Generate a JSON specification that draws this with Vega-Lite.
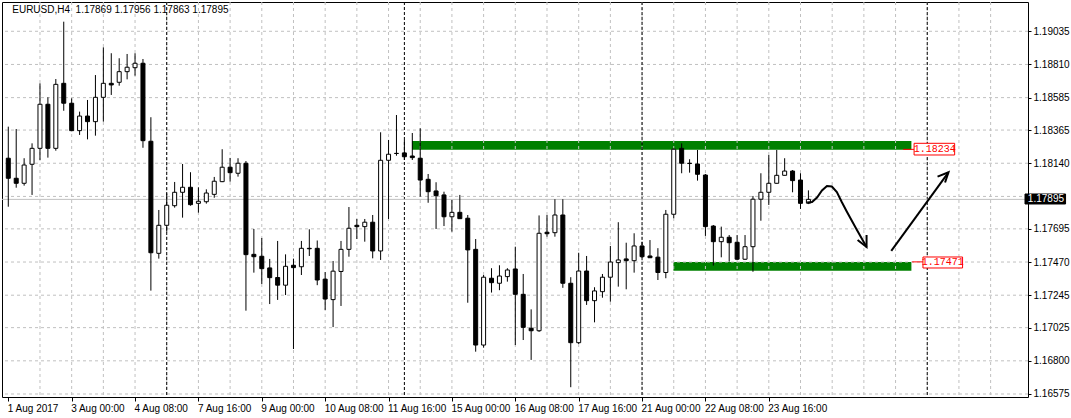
{
  "$schema": "https://vega.github.io/schema/vega-lite/v6.json",
  "width": 1026,
  "height": 395,
  "autosize": {"type": "none"},
  "padding": {"left": 2, "top": 2, "right": 43, "bottom": 21},
  "background": "white",
  "config": {
    "view": {"stroke": "black", "strokeWidth": 1, "fill": "white"},
    "font": "Liberation Sans",
    "axis": {"labelOverlap": false, "labelBound": false, "labelFlush": false, "title": null}
  },
  "datasets": {
    "candles": [
      {"i":0,"o":1.18174,"h":1.18388,"l":1.17845,"c":1.18038},
      {"i":1,"o":1.18038,"h":1.18372,"l":1.17974,"c":1.18004},
      {"i":2,"o":1.18004,"h":1.18174,"l":1.17988,"c":1.18128},
      {"i":3,"o":1.18133,"h":1.18275,"l":1.17925,"c":1.18241},
      {"i":4,"o":1.18241,"h":1.18682,"l":1.18162,"c":1.18540},
      {"i":5,"o":1.18540,"h":1.18587,"l":1.18178,"c":1.18241},
      {"i":6,"o":1.18241,"h":1.18711,"l":1.18225,"c":1.18675},
      {"i":7,"o":1.18682,"h":1.19100,"l":1.18496,"c":1.18547},
      {"i":8,"o":1.18547,"h":1.18580,"l":1.18357,"c":1.18361},
      {"i":9,"o":1.18361,"h":1.18490,"l":1.18332,"c":1.18460},
      {"i":10,"o":1.18460,"h":1.18569,"l":1.18302,"c":1.18422},
      {"i":11,"o":1.18422,"h":1.18738,"l":1.18327,"c":1.18587},
      {"i":12,"o":1.18587,"h":1.18926,"l":1.18422,"c":1.18682},
      {"i":13,"o":1.18682,"h":1.18886,"l":1.18603,"c":1.18671},
      {"i":14,"o":1.18689,"h":1.18852,"l":1.18666,"c":1.18761},
      {"i":15,"o":1.18761,"h":1.18881,"l":1.18709,"c":1.18791},
      {"i":16,"o":1.18788,"h":1.18886,"l":1.18734,"c":1.18818},
      {"i":17,"o":1.18818,"h":1.18847,"l":1.18245,"c":1.18293},
      {"i":18,"o":1.18289,"h":1.18452,"l":1.17276,"c":1.17533},
      {"i":19,"o":1.17529,"h":1.17823,"l":1.17493,"c":1.17719},
      {"i":20,"o":1.17719,"h":1.17936,"l":1.17676,"c":1.17855},
      {"i":21,"o":1.17852,"h":1.18013,"l":1.17839,"c":1.17943},
      {"i":22,"o":1.17943,"h":1.18135,"l":1.17771,"c":1.17977},
      {"i":23,"o":1.17977,"h":1.18079,"l":1.17852,"c":1.17859},
      {"i":24,"o":1.17868,"h":1.17977,"l":1.17805,"c":1.17882},
      {"i":25,"o":1.17879,"h":1.17963,"l":1.17866,"c":1.17938},
      {"i":26,"o":1.17929,"h":1.18047,"l":1.17906,"c":1.18018},
      {"i":27,"o":1.18015,"h":1.18235,"l":1.18012,"c":1.18113},
      {"i":28,"o":1.18113,"h":1.18176,"l":1.18015,"c":1.18076},
      {"i":29,"o":1.18072,"h":1.18174,"l":1.18049,"c":1.18140},
      {"i":30,"o":1.18140,"h":1.18155,"l":1.17140,"c":1.17520},
      {"i":31,"o":1.17522,"h":1.17694,"l":1.17398,"c":1.17506},
      {"i":32,"o":1.17509,"h":1.17633,"l":1.17321,"c":1.17425},
      {"i":33,"o":1.17430,"h":1.17491,"l":1.17185,"c":1.17364},
      {"i":34,"o":1.17365,"h":1.17613,"l":1.17213,"c":1.17313},
      {"i":35,"o":1.17313,"h":1.17522,"l":1.17246,"c":1.17441},
      {"i":36,"o":1.17448,"h":1.17493,"l":1.16880,"c":1.17432},
      {"i":37,"o":1.17438,"h":1.17613,"l":1.17382,"c":1.17563},
      {"i":38,"o":1.17563,"h":1.17692,"l":1.17511,"c":1.17560},
      {"i":39,"o":1.17563,"h":1.17616,"l":1.17313,"c":1.17348},
      {"i":40,"o":1.17354,"h":1.17402,"l":1.17145,"c":1.17219},
      {"i":41,"o":1.17215,"h":1.17477,"l":1.17029,"c":1.17408},
      {"i":42,"o":1.17406,"h":1.17613,"l":1.17172,"c":1.17556},
      {"i":43,"o":1.17556,"h":1.17843,"l":1.17506,"c":1.17699},
      {"i":44,"o":1.17719,"h":1.17762,"l":1.17626,"c":1.17710},
      {"i":45,"o":1.17710,"h":1.17762,"l":1.17608,"c":1.17740},
      {"i":46,"o":1.17740,"h":1.17789,"l":1.17495,"c":1.17545},
      {"i":47,"o":1.17545,"h":1.18350,"l":1.17484,"c":1.18160},
      {"i":48,"o":1.18160,"h":1.18298,"l":1.17762,"c":1.18201},
      {"i":49,"o":1.18207,"h":1.18467,"l":1.18191,"c":1.18206},
      {"i":50,"o":1.18210,"h":1.18298,"l":1.18162,"c":1.18184},
      {"i":51,"o":1.18189,"h":1.18345,"l":1.18162,"c":1.18178},
      {"i":52,"o":1.18174,"h":1.18377,"l":1.17913,"c":1.18026},
      {"i":53,"o":1.18031,"h":1.18067,"l":1.17872,"c":1.17947},
      {"i":54,"o":1.17952,"h":1.18011,"l":1.17694,"c":1.17920},
      {"i":55,"o":1.17925,"h":1.17947,"l":1.17714,"c":1.17777},
      {"i":56,"o":1.17777,"h":1.17891,"l":1.17676,"c":1.17807},
      {"i":57,"o":1.17807,"h":1.17925,"l":1.17762,"c":1.17764},
      {"i":58,"o":1.17767,"h":1.17789,"l":1.17194,"c":1.17552},
      {"i":59,"o":1.17556,"h":1.17626,"l":1.16862,"c":1.16907},
      {"i":60,"o":1.16907,"h":1.17382,"l":1.16889,"c":1.17367},
      {"i":61,"o":1.17360,"h":1.17428,"l":1.17263,"c":1.17330},
      {"i":62,"o":1.17326,"h":1.17448,"l":1.17279,"c":1.17375},
      {"i":63,"o":1.17371,"h":1.17428,"l":1.17337,"c":1.17416},
      {"i":64,"o":1.17423,"h":1.17574,"l":1.16907,"c":1.17251},
      {"i":65,"o":1.17251,"h":1.17389,"l":1.16941,"c":1.17027},
      {"i":66,"o":1.17021,"h":1.17149,"l":1.16806,"c":1.17004},
      {"i":67,"o":1.17004,"h":1.17786,"l":1.16996,"c":1.17665},
      {"i":68,"o":1.17672,"h":1.17789,"l":1.17642,"c":1.17662},
      {"i":69,"o":1.17669,"h":1.17896,"l":1.17642,"c":1.17789},
      {"i":70,"o":1.17789,"h":1.17896,"l":1.17295,"c":1.17326},
      {"i":71,"o":1.17326,"h":1.17367,"l":1.16621,"c":1.16923},
      {"i":72,"o":1.16923,"h":1.17533,"l":1.16914,"c":1.17409},
      {"i":73,"o":1.17409,"h":1.17511,"l":1.17179,"c":1.17208},
      {"i":74,"o":1.17208,"h":1.17299,"l":1.17061,"c":1.17274},
      {"i":75,"o":1.17269,"h":1.17389,"l":1.17228,"c":1.17367},
      {"i":76,"o":1.17367,"h":1.17579,"l":1.17201,"c":1.17470},
      {"i":77,"o":1.17466,"h":1.17740,"l":1.17303,"c":1.17484},
      {"i":78,"o":1.17491,"h":1.17601,"l":1.17285,"c":1.17479},
      {"i":79,"o":1.17479,"h":1.17665,"l":1.17398,"c":1.17579},
      {"i":80,"o":1.17579,"h":1.17608,"l":1.17499,"c":1.17506},
      {"i":81,"o":1.17511,"h":1.17619,"l":1.17497,"c":1.17499},
      {"i":82,"o":1.17503,"h":1.17564,"l":1.17348,"c":1.17399},
      {"i":83,"o":1.17399,"h":1.17823,"l":1.17360,"c":1.17794},
      {"i":84,"o":1.17794,"h":1.18241,"l":1.17767,"c":1.18235},
      {"i":85,"o":1.18241,"h":1.18275,"l":1.18072,"c":1.18140},
      {"i":86,"o":1.18140,"h":1.18167,"l":1.18076,"c":1.18138},
      {"i":87,"o":1.18135,"h":1.18230,"l":1.18022,"c":1.18065},
      {"i":88,"o":1.18060,"h":1.18067,"l":1.17647,"c":1.17710},
      {"i":89,"o":1.17714,"h":1.17721,"l":1.17446,"c":1.17608},
      {"i":90,"o":1.17608,"h":1.17710,"l":1.17502,"c":1.17638},
      {"i":91,"o":1.17638,"h":1.17653,"l":1.17472,"c":1.17601},
      {"i":92,"o":1.17604,"h":1.17653,"l":1.17484,"c":1.17489},
      {"i":93,"o":1.17489,"h":1.17653,"l":1.17484,"c":1.17574},
      {"i":94,"o":1.17574,"h":1.17918,"l":1.17404,"c":1.17896},
      {"i":95,"o":1.17896,"h":1.18072,"l":1.17750,"c":1.17943},
      {"i":96,"o":1.17943,"h":1.18196,"l":1.17857,"c":1.18004},
      {"i":97,"o":1.18004,"h":1.18230,"l":1.18002,"c":1.18058},
      {"i":98,"o":1.18058,"h":1.18174,"l":1.18057,"c":1.18087},
      {"i":99,"o":1.18087,"h":1.18094,"l":1.17943,"c":1.18022},
      {"i":100,"o":1.18026,"h":1.18072,"l":1.17830,"c":1.17868},
      {"i":101,"o":1.17869,"h":1.17956,"l":1.17863,"c":1.17895}
    ],
    "zones": [
      {"x1":50.96,"x2":114.0,"y1":1.18232,"y2":1.18291},
      {"x1":83.96,"x2":114.0,"y1":1.17411,"y2":1.17470}
    ],
    "gridv": [
      {"i":4},{"i":8},{"i":12},{"i":16},{"i":20},{"i":24},{"i":28},{"i":32},{"i":36},{"i":40},
      {"i":44},{"i":48},{"i":52},{"i":56},{"i":60},{"i":64},{"i":68},{"i":72},{"i":76},{"i":80},
      {"i":84},{"i":88},{"i":92},{"i":96},{"i":100},{"i":104},{"i":108},{"i":112},{"i":116},{"i":120},{"i":124}
    ],
    "gridh": [
      {"p":1.16575},{"p":1.16800},{"p":1.17025},{"p":1.17245},{"p":1.17470},{"p":1.17695},
      {"p":1.17915},{"p":1.18140},{"p":1.18365},{"p":1.18585},{"p":1.18810},{"p":1.19035}
    ],
    "separators": [{"i":20},{"i":50},{"i":80},{"i":116}],
    "bid": [{"p":1.17895}],
    "connectors": [
      {"x1":112.96,"x2":114.34,"p":1.18234},
      {"x1":114.09,"x2":115.46,"p":1.17471}
    ],
    "paths": [
      {"seg":"curve","k":0,"i":100.84,"p":1.178737},
      {"seg":"curve","k":1,"i":101.46,"p":1.178771},
      {"seg":"curve","k":2,"i":102.09,"p":1.179077},
      {"seg":"curve","k":3,"i":102.71,"p":1.179551},
      {"seg":"curve","k":4,"i":103.34,"p":1.179856},
      {"seg":"curve","k":5,"i":103.96,"p":1.179823},
      {"seg":"curve","k":6,"i":104.59,"p":1.179449},
      {"seg":"curve","k":7,"i":105.21,"p":1.178771},
      {"seg":"curve","k":8,"i":105.84,"p":1.178127},
      {"seg":"curve","k":9,"i":107.09,"p":1.176906},
      {"seg":"curve","k":10,"i":108.34,"p":1.175719},
      {"seg":"head1","k":0,"i":107.21,"p":1.176194},
      {"seg":"head1","k":1,"i":108.34,"p":1.175719},
      {"seg":"head1","k":2,"i":108.34,"p":1.176533},
      {"seg":"up","k":0,"i":111.46,"p":1.175451},
      {"seg":"up","k":1,"i":118.68,"p":1.180786},
      {"seg":"head2","k":0,"i":117.30,"p":1.180487},
      {"seg":"head2","k":1,"i":118.68,"p":1.180786},
      {"seg":"head2","k":2,"i":118.25,"p":1.180094}
    ],
    "boxes": [
      {"x1":114.34,"x2":119.46,"y1":1.181959,"y2":1.182752,"fill":"white","stroke":"#ff0000"},
      {"x1":115.46,"x2":120.46,"y1":1.174295,"y2":1.175041,"fill":"white","stroke":"#ff0000"},
      {"x1":128.34,"x2":133.46,"y1":1.178636,"y2":1.179314,"fill":"black","stroke":"black"}
    ],
    "levelLabels": [
      {"i":116.94,"p":1.18235,"label":"1.18234"},
      {"i":117.96,"p":1.17467,"label":"1.17471"}
    ],
    "priceLabel": [{"i":128.7,"p":1.17895,"label":"1.17895"}],
    "heading": [{"i":0.5,"p":1.191759,"label":"EURUSD,H4\u00a0 1.17869 1.17956 1.17863 1.17895"}]
  },
  "layer": [
    {
      "data": {"name": "zones"},
      "mark": {"type": "rect", "fill": "#008000"},
      "encoding": {
        "x": {"field": "x1", "type": "quantitative", "scale": {"domain": [-0.1625, 128.0875], "nice": false, "zero": false},
          "axis": {"orient": "bottom", "title": null, "grid": false, "domain": false, "tickCount": 40,
            "values": [0,8,16,24,32,40,48,56,64,72,80,88,96],
            "labelExpr": "['1 Aug 2017','3 Aug 00:00','4 Aug 08:00','7 Aug 16:00','9 Aug 00:00','10 Aug 08:00','11 Aug 16:00','15 Aug 00:00','16 Aug 08:00','17 Aug 16:00','21 Aug 00:00','22 Aug 08:00','23 Aug 16:00'][round(datum.value/8)]",
            "labelAlign": "left", "labelBaseline": "top", "labelPadding": 2, "labelOffset": -1,
            "tickSize": 4, "tickColor": "black", "labelColor": "black", "labelFontSize": 10,
            "labelFont": "Liberation Sans", "labelOverlap": false, "labelFlush": false, "labelBound": false}},
        "x2": {"field": "x2"},
        "y": {"field": "y1", "type": "quantitative", "scale": {"domain": [1.165546, 1.192335], "nice": false, "zero": false},
          "axis": {"orient": "right", "title": null, "grid": false, "domain": false, "tickCount": 40,
            "values": [1.16575,1.168,1.17025,1.17245,1.1747,1.17695,1.1814,1.18365,1.18585,1.1881,1.19035],
            "format": ".5f", "labelAlign": "left", "labelBaseline": "middle", "labelPadding": 2,
            "tickSize": 3, "tickColor": "black", "labelColor": "black", "labelFontSize": 10,
            "labelFont": "Liberation Sans", "labelOverlap": false, "labelFlush": false, "labelBound": false}},
        "y2": {"field": "y2"}
      }
    },
    {
      "data": {"name": "gridv"},
      "mark": {"type": "rule", "stroke": "#c0c0c0", "strokeWidth": 1, "strokeDash": [3, 3]},
      "encoding": {"x": {"field": "i", "type": "quantitative"}}
    },
    {
      "data": {"name": "gridh"},
      "mark": {"type": "rule", "stroke": "#c0c0c0", "strokeWidth": 1, "strokeDash": [3, 3]},
      "encoding": {"y": {"field": "p", "type": "quantitative"}}
    },
    {
      "data": {"name": "separators"},
      "mark": {"type": "rule", "stroke": "black", "strokeWidth": 1, "strokeDash": [3, 2]},
      "encoding": {"x": {"field": "i", "type": "quantitative"}}
    },
    {
      "data": {"name": "bid"},
      "mark": {"type": "rule", "stroke": "#c0c0c0", "strokeWidth": 1},
      "encoding": {"y": {"field": "p", "type": "quantitative"}}
    },
    {
      "data": {"name": "connectors"},
      "mark": {"type": "rule", "stroke": "#ff0000", "strokeWidth": 1},
      "encoding": {
        "x": {"field": "x1", "type": "quantitative"},
        "x2": {"field": "x2"},
        "y": {"field": "p", "type": "quantitative"}
      }
    },
    {
      "data": {"name": "candles"},
      "mark": {"type": "rule", "stroke": "black", "strokeWidth": 1, "clip": true},
      "encoding": {
        "x": {"field": "i", "type": "quantitative"},
        "y": {"field": "l", "type": "quantitative"},
        "y2": {"field": "h"}
      }
    },
    {
      "data": {"name": "candles"},
      "mark": {"type": "bar", "size": 4, "stroke": "black", "strokeWidth": 1, "clip": true},
      "encoding": {
        "x": {"field": "i", "type": "quantitative"},
        "y": {"field": "o", "type": "quantitative"},
        "y2": {"field": "c"},
        "fill": {"condition": {"test": "datum.c >= datum.o", "value": "white"}, "value": "black"}
      }
    },
    {
      "data": {"name": "paths"},
      "mark": {"type": "line", "stroke": "black", "strokeWidth": 2},
      "encoding": {
        "x": {"field": "i", "type": "quantitative"},
        "y": {"field": "p", "type": "quantitative"},
        "detail": {"field": "seg"},
        "order": {"field": "k", "type": "quantitative"}
      }
    },
    {
      "data": {"name": "boxes"},
      "mark": {"type": "rect", "strokeWidth": 1},
      "encoding": {
        "x": {"field": "x1", "type": "quantitative"},
        "x2": {"field": "x2"},
        "y": {"field": "y1", "type": "quantitative"},
        "y2": {"field": "y2"},
        "fill": {"field": "fill", "type": "nominal", "scale": null},
        "stroke": {"field": "stroke", "type": "nominal", "scale": null}
      }
    },
    {
      "data": {"name": "levelLabels"},
      "mark": {"type": "text", "font": "Liberation Mono", "fontSize": 10, "fill": "#ff0000", "align": "center", "baseline": "middle"},
      "encoding": {
        "x": {"field": "i", "type": "quantitative"},
        "y": {"field": "p", "type": "quantitative"},
        "text": {"field": "label"}
      }
    },
    {
      "data": {"name": "priceLabel"},
      "mark": {"type": "text", "font": "Liberation Sans", "fontSize": 10, "fill": "white", "align": "left", "baseline": "middle"},
      "encoding": {
        "x": {"field": "i", "type": "quantitative"},
        "y": {"field": "p", "type": "quantitative"},
        "text": {"field": "label"}
      }
    },
    {
      "data": {"name": "heading"},
      "mark": {"type": "text", "font": "Liberation Sans", "fontSize": 10, "fill": "black", "align": "left", "baseline": "middle"},
      "encoding": {
        "x": {"field": "i", "type": "quantitative"},
        "y": {"field": "p", "type": "quantitative"},
        "text": {"field": "label"}
      }
    }
  ]
}
